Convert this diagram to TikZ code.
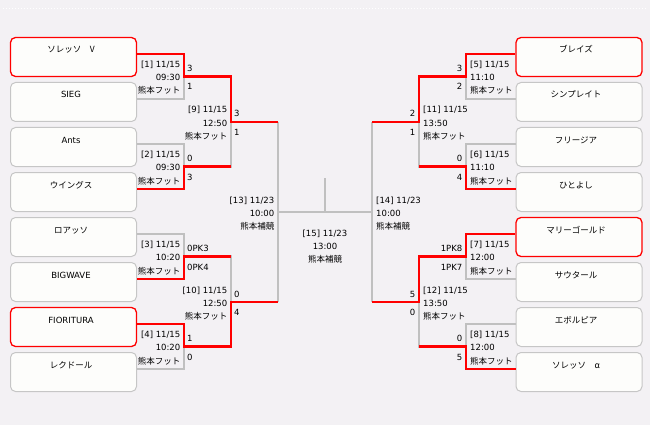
\documentclass[tikz,border=0pt]{standalone}
\usepackage{fontspec}
\setmainfont{DejaVu Sans}
\newfontfamily\jp{Noto Sans CJK JP}
\usetikzlibrary{calc}
\definecolor{bgc}{HTML}{F3F1F4}
\definecolor{boxfill}{HTML}{FDFDFB}
\definecolor{boxgray}{HTML}{C6C6C6}
\definecolor{linegray}{HTML}{C0C0C0}
\definecolor{winred}{HTML}{FF0000}
\newcommand\matchlabelL[6]{%
  \node[lbl,anchor=base east] (#1a) at (#2-3.5,#3-9) {#4};
  \node[lbl,anchor=base east] (#1b) at (#2-3.5,#3+4) {#5};
  \node[lbl,anchor=base east] (#1c) at (#2-3.5,#3+17.5) {#6};}
\newcommand\matchlabelR[6]{%
  \node[lbl,anchor=base west] (#1a) at (#2+4,#3-9) {#4};
  \node[lbl,anchor=base west] (#1b) at (#2+4,#3+4) {#5};
  \node[lbl,anchor=base west] (#1c) at (#2+4,#3+17.5) {#6};}
\newcommand\scoresL[5]{%
  \node[lbl,anchor=base west] (#1t) at (#2+3,#3-5) {#4};
  \node[lbl,anchor=base west] (#1u) at (#2+3,#3+13.5) {#5};}
\newcommand\scoresR[5]{%
  \node[lbl,anchor=base east] (#1t) at (#2-3.5,#3-5) {#4};
  \node[lbl,anchor=base east] (#1u) at (#2-3.5,#3+13.5) {#5};}
\begin{document}
\begin{tikzpicture}[x=1pt,y=-1pt,
  lbl/.style={inner sep=0pt, font=\fontsize{8.5}{10}\selectfont},
  teambox/.style={draw=boxgray, fill=boxfill, line width=1pt, rounded corners=5pt,
    minimum width=126pt, minimum height=39pt, inner sep=0pt},
  winbox/.style={teambox, draw=winred, line width=1.3pt},
  gline/.style={draw=linegray, line width=2.6pt},
  rline/.style={draw=winred, line width=2.6pt}]
\fill[bgc] (0,0) rectangle (650,425);
\useasboundingbox (0,0) rectangle (650,425);
\draw[white, line width=1pt, dash pattern=on 1pt off 2pt] (3,9) -- (647,9);

% team boxes
\foreach \i/\nm/\st in {1/{\jp ソレッソ　V}/winbox, 2/SIEG/teambox, 3/Ants/teambox,
    4/{\jp ウイングス}/teambox, 5/{\jp ロアッソ}/teambox, 6/BIGWAVE/teambox,
    7/FIORITURA/winbox, 8/{\jp レクドール}/teambox}{
  \node[\st] (lb\i) at (73.5,12+45*\i) {};
  \node[lbl,anchor=base] (ln\i) at (71,8+45*\i) {\nm};
}
\foreach \i/\nm/\st in {1/{\jp ブレイズ}/winbox, 2/{\jp シンプレイト}/teambox,
    3/{\jp フリージア}/teambox, 4/{\jp ひとよし}/teambox, 5/{\jp マリーゴールド}/winbox,
    6/{\jp サウタール}/teambox, 7/{\jp エボルピア}/teambox, 8/{\jp ソレッソ　α}/teambox}{
  \node[\st] (rb\i) at (579,12+45*\i) {};
  \node[lbl,anchor=base] (rn\i) at (576,8+45*\i) {\nm};
}
\foreach \i in {1,...,8}{
  \coordinate (lp\i) at ($(lb\i.east)+(0,-3)$);
  \coordinate (rp\i) at ($(rb\i.west)+(0,-3)$);
}
% junctions
\coordinate (m1) at (184,76.5);
\coordinate (m2) at (184,166.5);
\coordinate (m3) at (184,256.5);
\coordinate (m4) at (184,346.5);
\coordinate (m9) at (231,122);
\coordinate (m10) at (231,302);
\coordinate (o9) at (278,122);
\coordinate (o10) at (278,302);
\coordinate (m13) at (278,212);
\coordinate (f) at (325,212);
\coordinate (ftop) at (325,178);
\coordinate (m14) at (372,212);
\coordinate (r5) at (466,76.5);
\coordinate (r6) at (466,166.5);
\coordinate (r7) at (466,256.5);
\coordinate (r8) at (466,346.5);
\coordinate (m11) at (419,122);
\coordinate (m12) at (419,302);
\coordinate (o11) at (372,122);
\coordinate (o12) at (372,302);

% gray bracket
\draw[gline] (lp1) -| (m1) (lp2) -| (m1) (lp3) -| (m2) (lp4) -| (m2)
  (lp5) -| (m3) (lp6) -| (m3) (lp7) -| (m4) (lp8) -| (m4)
  (m1) -| (m9) (m2) -| (m9) (m3) -| (m10) (m4) -| (m10)
  (m9) -- (o9) (m10) -- (o10) (o9) -- (o10) (m13) -- (m14) (f) -- (ftop);
\draw[gline] (rp1) -| (r5) (rp2) -| (r5) (rp3) -| (r6) (rp4) -| (r6)
  (rp5) -| (r7) (rp6) -| (r7) (rp7) -| (r8) (rp8) -| (r8)
  (r5) -| (m11) (r6) -| (m11) (r7) -| (m12) (r8) -| (m12)
  (m11) -- (o11) (m12) -- (o12) (o11) -- (o12);
% winners
\draw[rline] (lp1) -| (m1) -| (m9) -- (o9);
\draw[rline] (lp4) -| (m2) -- (m2 -| m9);
\draw[rline] (lp6) -| (m3) -- (m3 -| m10);
\draw[rline] (lp7) -| (m4) -| (m10) -- (o10);
\draw[rline] (rp1) -| (r5) -| (m11) -- (o11);
\draw[rline] (rp4) -| (r6) -- (r6 -| m11);
\draw[rline] (rp5) -| (r7) -| (m12) -- (o12);
\draw[rline] (rp8) -| (r8) -- (r8 -| m12);

% match labels
\matchlabelL{k1}{184}{76.5}{[1] 11/15}{09:30}{\jp 熊本フット}
\matchlabelL{k2}{184}{166.5}{[2] 11/15}{09:30}{\jp 熊本フット}
\matchlabelL{k3}{184}{256.5}{[3] 11/15}{10:20}{\jp 熊本フット}
\matchlabelL{k4}{184}{346.5}{[4] 11/15}{10:20}{\jp 熊本フット}
\matchlabelL{k9}{231}{122}{[9] 11/15}{12:50}{\jp 熊本フット}
\matchlabelL{k10}{231}{302}{[10] 11/15}{12:50}{\jp 熊本フット}
\matchlabelL{k13}{278}{212}{[13] 11/23}{10:00}{\jp 熊本補競}
\matchlabelR{k5}{466}{76.5}{[5] 11/15}{11:10}{\jp 熊本フット}
\matchlabelR{k6}{466}{166.5}{[6] 11/15}{11:10}{\jp 熊本フット}
\matchlabelR{k7}{466}{256.5}{[7] 11/15}{12:00}{\jp 熊本フット}
\matchlabelR{k8}{466}{346.5}{[8] 11/15}{12:00}{\jp 熊本フット}
\matchlabelR{k11}{419}{122}{[11] 11/15}{13:50}{\jp 熊本フット}
\matchlabelR{k12}{419}{302}{[12] 11/15}{13:50}{\jp 熊本フット}
\matchlabelR{k14}{372}{212}{[14] 11/23}{10:00}{\jp 熊本補競}
\node[lbl,anchor=base] (k15a) at (325,236.5) {[15] 11/23};
\node[lbl,anchor=base] (k15b) at (325,249.5) {13:00};
\node[lbl,anchor=base] (k15c) at (325,262) {\jp 熊本補競};

% scores
\scoresL{s1}{184}{76.5}{3}{1}
\scoresL{s2}{184}{166.5}{0}{3}
\scoresL{s3}{184}{256.5}{0PK3}{0PK4}
\scoresL{s4}{184}{346.5}{1}{0}
\scoresL{s9}{231}{122}{3}{1}
\scoresL{s10}{231}{302}{0}{4}
\scoresR{s5}{466}{76.5}{3}{2}
\scoresR{s6}{466}{166.5}{0}{4}
\scoresR{s7}{466}{256.5}{1PK8}{1PK7}
\scoresR{s8}{466}{346.5}{0}{5}
\scoresR{s11}{419}{122}{2}{1}
\scoresR{s12}{419}{302}{5}{0}
\end{tikzpicture}
\end{document}
